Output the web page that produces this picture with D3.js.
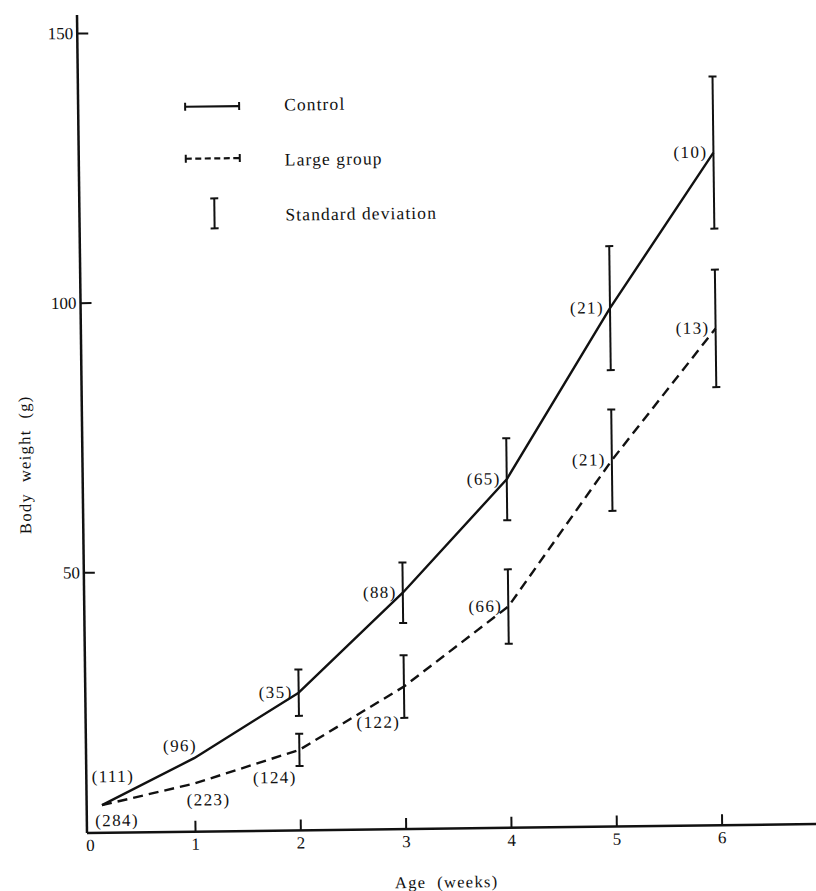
<!DOCTYPE html>
<html>
<head>
<meta charset="utf-8">
<script src="https://cdn.jsdelivr.net/npm/d3@7"></script>
<style>
  body { margin: 0; background: #fff; }
  text { font-family: "Liberation Serif", "DejaVu Serif", serif; fill: #111; }
</style>
</head>
<body>
<div id="chart-area"></div>
<script>
// data
var weeks = [0.12, 1, 2, 3, 4, 5, 6];
var controlMean = [6.8, 15.3, 27.2, 45.5, 66.3, 97.8, 126.4];
var controlSD   = [null, null, 4.3, 5.6, 7.6, 11.5, 14.1];
var controlN    = [111, 96, 35, 88, 65, 21, 10];
var largeMean   = [6.8, 10.6, 16.6, 28.1, 42.7, 69.6, 93.8];
var largeSD     = [null, null, 3.0, 5.8, 6.9, 9.4, 10.9];
var largeN      = [284, 223, 124, 122, 66, 21, 13];
var xTicks = [0, 1, 2, 3, 4, 5, 6];
var yTicks = [50, 100, 150];
var legendLabels = ["Control", "Large group", "Standard deviation"];

var width = 816, height = 891;
var ox = 87, oy = 833;   // axis corner

var svg = d3.select("#chart-area").append("svg")
    .attr("width", width)
    .attr("height", height);

// the printed figure sits slightly tilted on the page
var group = svg.append("g")
    .attr("transform", "rotate(-0.7," + ox + "," + oy + ")");

var x = d3.scaleLinear().domain([0, 6]).range([89.7, 721.7]);
var y = d3.scaleLinear().domain([0, 150]).range([842, 33]);

// x axis
var xAxis = group.append("g")
    .attr("transform", "translate(0," + oy + ")")
    .call(d3.axisBottom(x).tickValues(xTicks).tickFormat(d3.format("d"))
        .tickSizeInner(-11).tickSizeOuter(0).tickPadding(6));
xAxis.select(".domain").remove();
xAxis.selectAll(".tick line").attr("stroke-width", 2).attr("stroke", "#111")
    .filter(function(d) { return d === 0; }).remove();
xAxis.selectAll(".tick text").attr("font-size", 17).attr("fill", "#111");
group.append("line")
    .attr("x1", ox).attr("x2", 840)
    .attr("y1", oy).attr("y2", oy)
    .attr("stroke", "#111").attr("stroke-width", 2.5);

// y axis
var yAxis = group.append("g")
    .attr("transform", "translate(" + ox + ",0)")
    .call(d3.axisLeft(y).tickValues(yTicks).tickFormat(d3.format("d"))
        .tickSizeInner(-11).tickSizeOuter(0).tickPadding(4));
yAxis.select(".domain").remove();
yAxis.selectAll(".tick line").attr("stroke-width", 2).attr("stroke", "#111");
yAxis.selectAll(".tick text").attr("font-size", 17).attr("fill", "#111");
group.append("line")
    .attr("x1", ox).attr("x2", ox)
    .attr("y1", oy).attr("y2", 15)
    .attr("stroke", "#111").attr("stroke-width", 2.5);

// axis titles
group.append("text")
    .attr("x", 446).attr("y", 892)
    .attr("text-anchor", "middle")
    .attr("font-size", 16.5)
    .attr("letter-spacing", 1.3)
    .style("white-space", "pre")
    .text("Age  (weeks)");
group.append("text")
    .attr("transform", "translate(35,464) rotate(-90)")
    .attr("text-anchor", "middle")
    .attr("font-size", 16.5)
    .attr("letter-spacing", 1.3)
    .style("white-space", "pre")
    .text("Body  weight  (g)");

var series = [
    {mean: controlMean, sd: controlSD, n: controlN, dash: null},
    {mean: largeMean, sd: largeSD, n: largeN, dash: "10,6"}
];

var line = d3.line()
    .x(function(d) { return x(d.w); })
    .y(function(d) { return y(d.v); });

// where each (n) label sits relative to its point: [dx, dy, anchor]
var labelPlace = [
    [[-10, -23, "start"], [3, -7, "end"], null, null, null, null, null],
    [[-7, 21, "start"], [-8, 22, "start"], [-3, 33, "end"], [-4, 41, "end"], null, null, null]
];

series.forEach(function(s, si) {
    var pts = weeks.map(function(w, i) {
        return {w: w, v: s.mean[i], sd: s.sd[i], n: s.n[i], i: i};
    });

    group.append("path")
        .datum(pts)
        .attr("d", line)
        .attr("fill", "none")
        .attr("stroke", "#111")
        .attr("stroke-width", 2.4)
        .attr("stroke-linejoin", "round")
        .attr("stroke-dasharray", s.dash);

    var bars = group.selectAll(".sd" + si)
        .data(pts.filter(function(d) { return d.sd != null; }))
        .enter().append("g")
        .attr("class", "sd" + si);
    bars.append("line")
        .attr("x1", function(d) { return x(d.w); })
        .attr("x2", function(d) { return x(d.w); })
        .attr("y1", function(d) { return y(d.v + d.sd); })
        .attr("y2", function(d) { return y(d.v - d.sd); })
        .attr("stroke", "#111").attr("stroke-width", 2);
    [1, -1].forEach(function(sign) {
        bars.append("line")
            .attr("x1", function(d) { return x(d.w) - 4; })
            .attr("x2", function(d) { return x(d.w) + 4; })
            .attr("y1", function(d) { return y(d.v + sign * d.sd); })
            .attr("y2", function(d) { return y(d.v + sign * d.sd); })
            .attr("stroke", "#111").attr("stroke-width", 2);
    });

    group.selectAll(".n" + si)
        .data(pts)
        .enter().append("text")
        .attr("class", "n" + si)
        .attr("x", function(d) {
            var p = labelPlace[si][d.i];
            return x(d.w) + (p ? p[0] : -6);
        })
        .attr("y", function(d) {
            var p = labelPlace[si][d.i];
            return y(d.v) + (p ? p[1] : 5);
        })
        .attr("text-anchor", function(d) {
            var p = labelPlace[si][d.i];
            return p ? p[2] : "end";
        })
        .attr("font-size", 17)
        .attr("letter-spacing", 1.4)
        .text(function(d) { return "(" + d.n + ")"; });
});

// legend
var legend = group.append("g").attr("transform", "translate(194,108)");
[0, 1].forEach(function(k) {
    var ly = k * 52;
    legend.append("line")
        .attr("x1", 0).attr("x2", 54).attr("y1", ly).attr("y2", ly)
        .attr("stroke", "#111").attr("stroke-width", 2.2)
        .attr("stroke-dasharray", k === 1 ? "6,3.5" : null);
    [0, 54].forEach(function(cx) {
        legend.append("line")
            .attr("x1", cx).attr("x2", cx).attr("y1", ly - 4).attr("y2", ly + 4)
            .attr("stroke", "#111").attr("stroke-width", 2);
    });
});
legend.append("line")
    .attr("x1", 28).attr("x2", 28).attr("y1", 92).attr("y2", 122)
    .attr("stroke", "#111").attr("stroke-width", 2);
[92, 122].forEach(function(cy) {
    legend.append("line")
        .attr("x1", 24).attr("x2", 32).attr("y1", cy).attr("y2", cy)
        .attr("stroke", "#111").attr("stroke-width", 2);
});
legend.selectAll(".lg")
    .data(legendLabels)
    .enter().append("text")
    .attr("class", "lg")
    .attr("x", 99)
    .attr("y", function(d, i) { return 5 + i * 55; })
    .attr("font-size", 17.5)
    .attr("letter-spacing", 1.1)
    .text(function(d) { return d; });
</script>
</body>
</html>
